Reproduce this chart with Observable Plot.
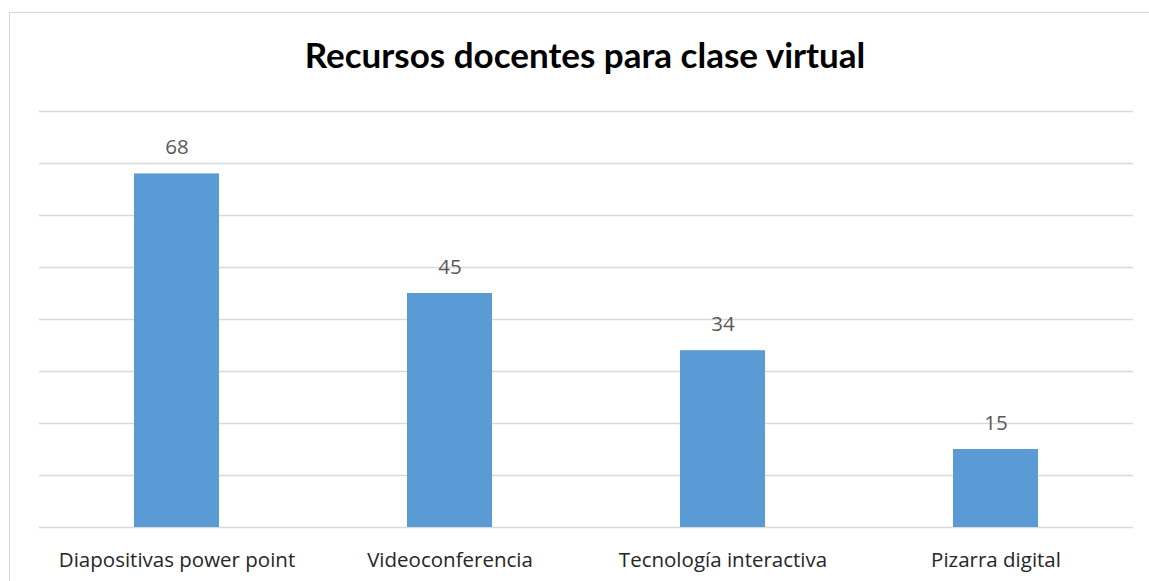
<!DOCTYPE html>
<html><head><meta charset="utf-8">
<script src="https://cdn.jsdelivr.net/npm/d3@7"></script>
<script src="https://cdn.jsdelivr.net/npm/@observablehq/plot@0.6"></script>
<style>
html,body{margin:0;padding:0;background:#fff;}
#wrap{position:relative;width:1149px;height:581px;overflow:hidden;}
#frame{position:absolute;left:9px;top:12px;width:1200px;height:700px;border:1.5px solid #d9d9d9;box-sizing:border-box;}
#title{position:absolute;left:0;width:1170px;top:33px;text-align:center;font-family:Lato,sans-serif;font-weight:bold;font-size:35px;color:#000;}
#chart{position:absolute;left:0;top:0;}
</style></head>
<body><div id="wrap"><div id="frame"></div><div id="chart"></div><div id="title">Recursos docentes para clase virtual</div></div>
<script>
const categories = ["Diapositivas power point","Videoconferencia","Tecnología interactiva","Pizarra digital"];
const values = [68, 45, 34, 15];
const yTicks = [0,10,20,30,40,50,60,70,80];
const data = categories.map((c,i)=>({cat:c, v:values[i]}));
const plot = Plot.plot({
  width:1149, height:581,
  marginLeft:39, marginRight:16, marginTop:111, marginBottom:54,
  style:{background:"transparent", fontFamily:"'Open Sans', sans-serif"},
  x:{domain:categories, paddingInner:0.69, paddingOuter:0.345, label:null, axis:null},
  y:{domain:[0,80], ticks:yTicks, label:null, axis:null},
  marks:[
    Plot.ruleY(yTicks,{stroke:"#d9d9d9", strokeWidth:1.5}),
    Plot.barY(data,{x:"cat", y:"v", fill:"#5b9bd5"}),
    Plot.text(data,{x:"cat", y:"v", text:d=>String(d.v), dy:-26, fill:"#595959", fontSize:20.5}),
    Plot.axisX({tickSize:0, tickPadding:25, fontSize:20.5, fill:"#262626"})
  ]
});
document.getElementById("chart").appendChild(plot);
</script></body></html>
